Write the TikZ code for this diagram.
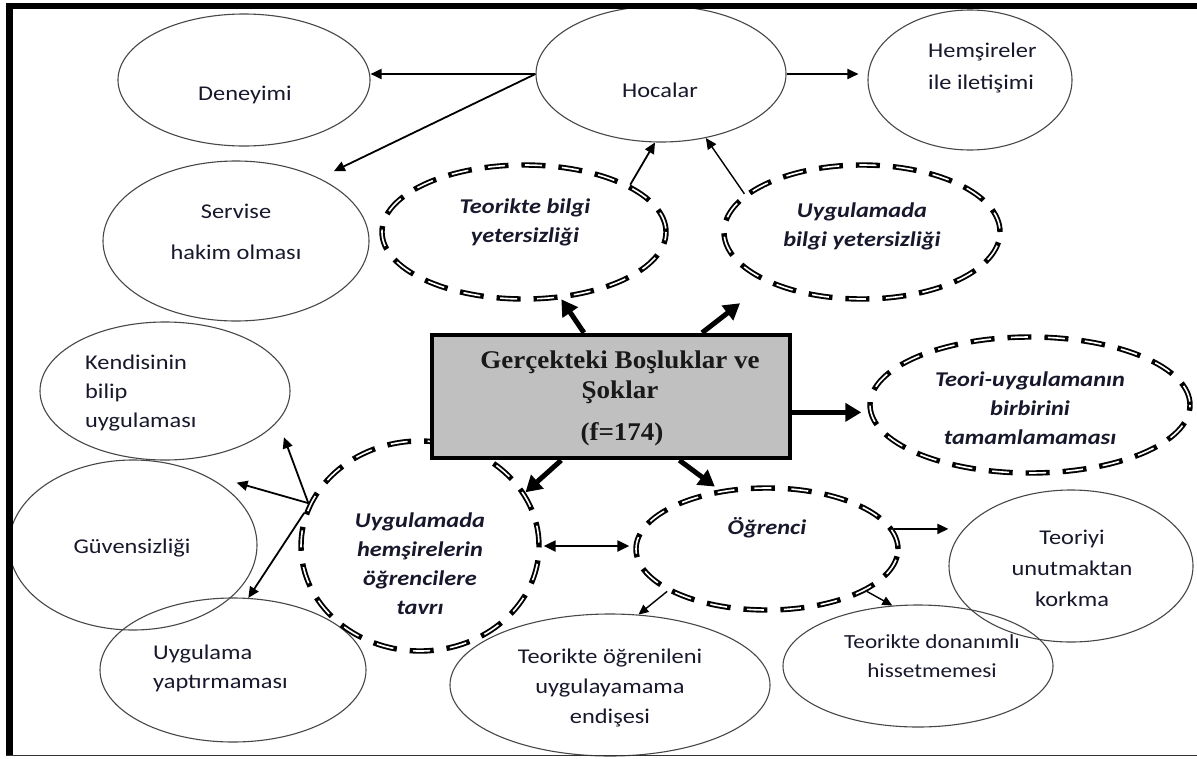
\documentclass[tikz,border=0pt]{standalone}
\usepackage{fontspec}
\setmainfont{Carlito}[FakeStretch=1.16]
\newfontfamily\titlefont{Liberation Serif}[FakeStretch=1.06]
\usetikzlibrary{shapes.geometric,arrows.meta}
\definecolor{ink}{RGB}{24,24,44}
\definecolor{boxgray}{RGB}{192,192,192}

\begin{document}
\begin{tikzpicture}[x=1pt,y=-1pt,
  oval/.style={ellipse,draw=black!72,line width=1.1pt,inner sep=0pt},
  dashoval/.style={ellipse,inner sep=0pt,draw=black,line width=5.4pt,
    dash pattern=on 24pt off 13pt,
    postaction={draw=white,line width=1.6pt,dash pattern=on 17pt off 20pt,dash phase=33.5pt}},
  txt/.style={text=ink,font=\fontsize{21}{29}\selectfont,align=center,inner sep=0pt},
  btxt/.style={txt,font=\fontsize{21}{29}\selectfont\bfseries\itshape},
  thinarrow/.style={line width=1.8pt,-{Triangle[length=11pt,width=10pt]}},
  thickarrow/.style={line width=5pt,-{Triangle[length=16pt,width=18pt]}},
  botharrow/.style={line width=2.3pt,{Triangle[length=12pt,width=11pt]}-{Triangle[length=12pt,width=11pt]}},
]
\useasboundingbox (0,0) rectangle (1197,758);
\fill[white] (0,0) rectangle (1197,758);

% plain outlined ellipses
\node[oval,minimum width=252pt,minimum height=132pt] (den)  at (244,80) {};
\node[oval,minimum width=250pt,minimum height=136pt] (hoc)  at (661,74) {};
\node[oval,minimum width=204pt,minimum height=140pt] (hem)  at (970,80) {};
\node[oval,minimum width=266pt,minimum height=160pt] (serv) at (236,241) {};
\node[oval,minimum width=250pt,minimum height=138pt] (kend) at (165,391) {};
\node[oval,minimum width=248pt,minimum height=170pt] (guv)  at (133,545) {};
\node[oval,minimum width=266pt,minimum height=144pt] (uyg)  at (233,670) {};
\node[oval,minimum width=320pt,minimum height=142pt] (toe)  at (610,685) {};
\node[oval,minimum width=270pt,minimum height=122pt] (tdon) at (918,666) {};
\node[oval,minimum width=244pt,minimum height=152pt] (tuk)  at (1071,566) {};

% dashed double-line ellipses
\node[dashoval,minimum width=284pt,minimum height=134pt] (tb)  at (524,232) {};
\node[dashoval,minimum width=276pt,minimum height=134pt] (ub)  at (862,232) {};
\node[dashoval,minimum width=320pt,minimum height=136pt] (tam) at (1030,405) {};
\node[dashoval,minimum width=238pt,minimum height=210pt] (dav) at (420,546) {};
\node[dashoval,minimum width=262pt,minimum height=122pt] (ogr) at (767,549) {};

% central box
\node[draw=black,line width=4.5pt,fill=boxgray,minimum width=358pt,minimum height=123pt,inner sep=0pt]
  (box) at (611,396.5) {};
\node[font=\titlefont\fontsize{25.5}{30}\selectfont\bfseries,align=center,inner sep=0pt,text=black!90]
  (title) at (620,377) {Gerçekteki Boşluklar ve\\Şoklar};
\node[font=\titlefont\fontsize{25.5}{30}\selectfont\bfseries,inner sep=0pt,text=black!90]
  (freq) at (622,434) {(f=174)};

% labels
\node[txt] (denT)  at (245,95)  {Deneyimi};
\node[txt] (hocT)  at (660,90)  {Hocalar};
\node[txt,align=left,anchor=west] (hemT) at (928,68) {Hemşireler\\[3pt]ile iletişimi};
\node[txt] (servT) at (236,232) {Servise\\[12pt]hakim olması};
\node[txt,align=left,anchor=west] (kendT) at (85,393) {Kendisinin\\bilip\\uygulaması};
\node[txt] (guvT)  at (132,548) {Güvensizliği};
\node[txt,align=left,anchor=west] (uygT) at (153,668) {Uygulama\\yaptırmaması};
\node[txt] (toeT)  at (610,688) {Teorikte öğrenileni\\[1pt]uygulayamama\\[1pt]endişesi};
\node[txt,font=\fontsize{20}{29}\selectfont] (tdonT) at (932,656) {Teorikte donanımlı\\hissetmemesi};
\node[txt] (tukT)  at (1072,568) {Teoriyi\\[2pt]unutmaktan\\[2pt]korkma};

\node[btxt] (tbT)  at (525,222) {Teorikte bilgi\\yetersizliği};
\node[btxt] (ubT)  at (862,226) {Uygulamada\\bilgi yetersizliği};
\node[btxt] (tamT) at (1030,408) {Teori-uygulamanın\\birbirini\\tamamlamaması};
\node[btxt] (davT) at (420,564) {Uygulamada\\hemşirelerin\\öğrencilere\\tavrı};
\node[btxt] (ogrT) at (767,528) {Öğrenci};

% connectors from Hocalar
\draw[thinarrow] (hoc.west) -- (hoc.west -| den.east);
\draw[thinarrow,shorten >=16pt] (hoc.west) -- (serv.37);
\draw[thinarrow,shorten >=9pt] (hoc.east) -- (hoc.east -| hem.west);
\draw[thinarrow] (tb.24) -- (hoc.265);
\draw[thinarrow,line width=1.4pt] (ub.162) -- (hoc.305);

% connectors from the central box
\draw[thickarrow] (box.113) -- (tb.299);
\draw[thickarrow,shorten >=33pt] (box.35) -- (ub.208);
\draw[thickarrow,shorten >=6pt] (box.355) -- (box.355 -| tam.west);
\draw[thickarrow] (box.232) -- (dav.27);
\draw[thickarrow,shorten >=5pt] (box.317) -- (ogr.129);

% between the two lower dashed ellipses
\draw[botharrow,shorten <=2pt,shorten >=4pt] (dav.east) -- (dav.east -| ogr.west);

% connectors from Öğrenci
\draw[thinarrow] (ogr.9) -- (ogr.9 -| tuk.west);
\draw[thinarrow,line width=1.4pt,-{Triangle[length=10pt,width=9pt]}] (ogr.203) -- (toe.68);
\draw[thinarrow,line width=1.4pt,-{Triangle[length=10pt,width=9pt]}] (ogr.337) -- (tdon.113);

% connectors from the nurses' attitude ellipse
\draw[thinarrow,shorten >=17pt] (dav.159) -- (kend.345);
\draw[thinarrow,shorten >=43pt] (dav.159) -- (guv.50);
\draw[thinarrow] (dav.164) -- (uyg.78);

% outer frame
\fill[black] (6,3) rectangle (1197,8.5);
\fill[black] (6,3) rectangle (12.5,756);
\draw[line width=1.2pt,black!80] (6,755.5) -- (1197,755.5);
\end{tikzpicture}
\end{document}
